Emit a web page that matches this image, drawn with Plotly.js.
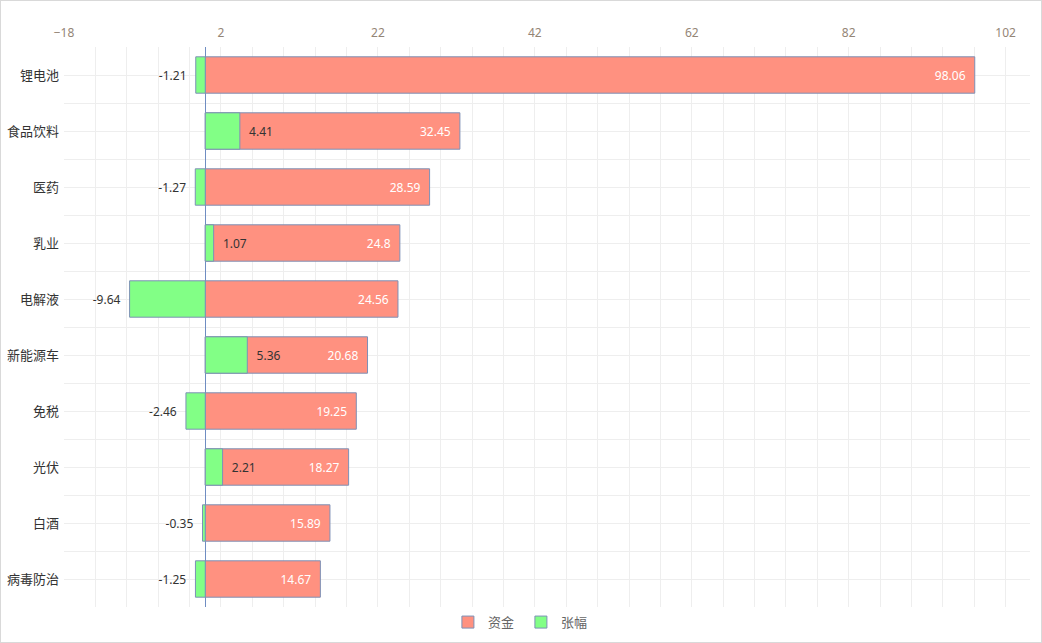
<!DOCTYPE html>
<html>
<head>
<meta charset="utf-8">
<script src="https://cdn.plot.ly/plotly-3.0.1.min.js"></script>
<style>
html,body{margin:0;padding:0;background:#fff;}
#chart{width:1040px;height:641px;border:1px solid #d9d9d9;}
</style>
</head>
<body>
<div id="chart"></div>
<script>
var categories = ['锂电池','食品饮料','医药','乳业','电解液','新能源车','免税','光伏','白酒','病毒防治'];
var funds = [98.06, 32.45, 28.59, 24.8, 24.56, 20.68, 19.25, 18.27, 15.89, 14.67];
var changes = [-1.21, 4.41, -1.27, 1.07, -9.64, 5.36, -2.46, 2.21, -0.35, -1.25];
var seriesNames = ['资金', '张幅'];

var idx = categories.map(function(c, i){ return i; });
var NB = '\u00a0';
var fundText = funds.map(function(v){ return String(v) + NB + NB; });
var changeText = changes.map(function(v){ return v >= 0 ? NB + NB + String(v) : String(v) + NB + NB; });

var outline = {color: '#7d90b6', width: 1};

var traces = [
  {
    type: 'bar', orientation: 'h', name: seriesNames[0],
    x: funds, y: idx,
    width: 0.65,
    marker: {color: '#ff9180', line: outline},
    text: fundText, textposition: 'inside', insidetextanchor: 'end',
    textfont: {color: '#ffffff', size: 12, family: 'Noto Sans, DejaVu Sans, sans-serif'},
    constraintext: 'none', cliponaxis: false,
    hoverinfo: 'none'
  },
  {
    type: 'bar', orientation: 'h', name: seriesNames[1],
    x: changes, y: idx,
    width: 0.65,
    marker: {color: '#82ff86', line: outline},
    text: changeText, textposition: 'outside',
    outsidetextfont: {color: '#333333', size: 12, family: 'Noto Sans, DejaVu Sans, sans-serif'},
    textfont: {color: '#333333', size: 12, family: 'Noto Sans, DejaVu Sans, sans-serif'},
    constraintext: 'none', cliponaxis: false,
    hoverinfo: 'none'
  }
];

var layout = {
  width: 1040, height: 641,
  margin: {l: 63, r: 11, t: 46, b: 35, autoexpand: false},
  paper_bgcolor: '#ffffff', plot_bgcolor: '#ffffff',
  barmode: 'overlay',
  showlegend: true,
  legend: {
    orientation: 'h', x: 0.473, xanchor: 'center', y: -0.027, yanchor: 'middle',
    font: {size: 13, color: '#666666', family: 'Noto Sans CJK SC, sans-serif'},
    itemwidth: 30, tracegroupgap: 0,
    entrywidth: 28, entrywidthmode: 'pixels'
  },
  xaxis: {
    side: 'top',
    range: [-18, 105.1],
    tickmode: 'linear', tick0: 2, dtick: 20,
    showgrid: true, gridcolor: '#eeeeee', gridwidth: 1,
    minor: {tick0: 2, dtick: 4, showgrid: true, gridcolor: '#eeeeee', gridwidth: 1, ticklen: 0},
    zeroline: true, zerolinecolor: '#6f8dc2', zerolinewidth: 1,
    showline: false, ticks: '',
    ticklabelstandoff: 7,
    tickfont: {size: 12, color: '#948576', family: 'Noto Sans, DejaVu Sans, sans-serif'},
    fixedrange: true
  },
  yaxis: {
    range: [9.5, -0.5],
    tickmode: 'array', tickvals: idx, ticktext: categories,
    showgrid: true, gridcolor: '#eeeeee', gridwidth: 1,
    minor: {tickmode: 'linear', tick0: 0.5, dtick: 1, showgrid: true, gridcolor: '#eeeeee', gridwidth: 1, ticklen: 0},
    zeroline: false, showline: false, ticks: '',
    ticklabelstandoff: 4,
    tickfont: {size: 13, color: '#333333', family: 'Noto Sans CJK SC, sans-serif'},
    fixedrange: true
  },
  hovermode: false
};

Plotly.newPlot('chart', traces, layout, {displayModeBar: false, staticPlot: true});
</script>
</body>
</html>
